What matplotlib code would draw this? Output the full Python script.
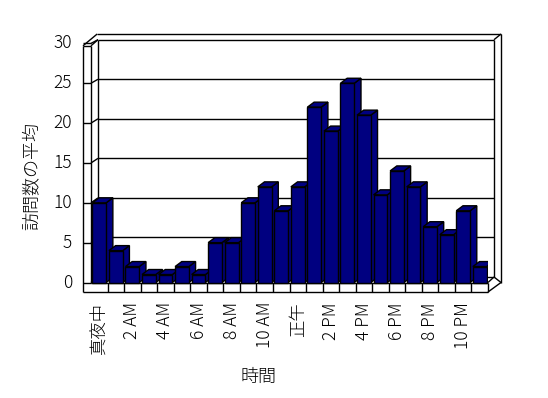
import matplotlib
matplotlib.use("Agg")
import matplotlib.pyplot as plt
from matplotlib.patches import Polygon
from matplotlib.lines import Line2D

plt.rcParams['font.family'] = ['Noto Sans CJK JP', 'DejaVu Sans']
plt.rcParams['font.weight'] = 'light'

# ---- data ----
hours = list(range(24))
visits = [10, 4, 2, 1, 1, 2, 1, 5, 5, 10, 12, 9, 12, 22, 19, 25, 21, 11, 14, 12, 7, 6, 9, 2]
tick_labels = ['真夜中', '2 AM', '4 AM', '6 AM', '8 AM', '10 AM',
               '正午', '2 PM', '4 PM', '6 PM', '8 PM', '10 PM']
y_ticks = [0, 5, 10, 15, 20, 25, 30]
x_title = '時間'
y_title = '訪問数の平均'

BAR = '#000080'
W, H = 548, 398
fig = plt.figure(figsize=(W / 100, H / 100), dpi=100)

# geometry (pixels)
cat_px = 16.54
front_left_px = 83
plane_left_px = 91
plane_right_px = 488
y0_px = 282.5
unit_px = 7.97
top_px, bot_px = 34, 292

xlo = -0.5 - (plane_left_px - front_left_px) / cat_px
xhi = 23.5
ylo = -(bot_px - y0_px) / unit_px
yhi = (y0_px - top_px) / unit_px

ax = fig.add_axes([front_left_px / W, (H - bot_px) / H,
                   (plane_right_px - front_left_px) / W, (bot_px - top_px) / H])
ax.set_xlim(xlo, xhi)
ax.set_ylim(ylo, yhi)
ax.axis('off')

px_x = 1.0 / cat_px      # data units per pixel (x)
px_y = 1.0 / unit_px     # data units per pixel (y)

lk = dict(color='black', lw=1.0, clip_on=False, solid_capstyle='butt')

def seg(xs, ys, z=1):
    ax.add_line(Line2D(xs, ys, zorder=z, **lk))

# back wall mapping
bdx_l = -0.5 + 7 * px_x       # back-wall left x
bdx_r = 23.5 + 6 * px_x       # back-wall right x
def back_y(v):
    return (y0_px - (277 - 7.91 * v)) / unit_px

def front_y(v):
    return v

# gridlines on back wall + left wall diagonals
for v in y_ticks:
    seg([bdx_l, bdx_r], [back_y(v), back_y(v)])
    seg([xlo, -0.5], [front_y(v), front_y(v)])
    seg([-0.5, bdx_l], [front_y(v), back_y(v)])

# walls and floor frame
outer_top = (y0_px - 34) / unit_px
outer_right = 23.5 + 13 * px_x
seg([bdx_r, bdx_r], [back_y(0), back_y(30)])
seg([bdx_r, outer_right], [back_y(30), outer_top])
seg([bdx_l, bdx_l], [back_y(0), back_y(30)])
seg([xlo, xlo], [ylo, front_y(29.7)])
seg([-0.5, -0.5], [0, front_y(29.7)])
seg([xlo, -0.5], [front_y(29.7), front_y(29.7)])
seg([xlo, bdx_l - 0.05], [front_y(29.7), outer_top])
seg([-0.5, bdx_l], [front_y(29.7), back_y(30)])
seg([bdx_l - 0.05, outer_right], [outer_top, outer_top])
seg([outer_right, outer_right], [outer_top, 0])
seg([outer_right, 23.5], [0, ylo])
seg([xlo, 23.5], [ylo, ylo])
seg([-0.5, 23.5], [0, 0])
seg([23.5, 23.5], [0, ylo])
seg([23.5, bdx_r], [0, back_y(0)])
seg([23.5 + 6 * px_x, outer_right], [back_y(0), 0])
for k in range(1, 24):
    seg([k - 0.5, k - 0.5], [ylo, 0])

# bars with 3D top and side
bw = 13.8 * px_x
ddx = 6.7 * px_x
ddy = 5.0 * px_y
for i, (x, v) in enumerate(zip(hours, visits)):
    z = 10 + i
    l, r = x - bw / 2, x + bw / 2
    side = Polygon([(r, 0), (r, v), (r + ddx, v + ddy), (r + ddx, ddy)],
                   closed=True, facecolor=BAR, edgecolor='black', lw=1.0, zorder=z)
    top = Polygon([(l, v), (r, v), (r + ddx, v + ddy), (l + ddx, v + ddy)],
                  closed=True, facecolor=BAR, edgecolor='black', lw=1.0, zorder=z)
    ax.add_patch(side)
    ax.add_patch(top)
    ax.bar([x], [v], width=bw, color=BAR, edgecolor='black', lw=1.0, zorder=z + 0.5)

# y tick labels
for v in y_ticks:
    ax.text(xlo - 11 * px_x, v, str(v), ha='right', va='center', fontsize=12.5,
            color='black', clip_on=False)

# x tick labels
for j, lab in enumerate(tick_labels):
    ax.text(hours[2 * j], ylo - 10 * px_y, lab, rotation=90, ha='center', va='top',
            fontsize=12.5, color='black', clip_on=False)

fig.text(258 / W, 1 - 377 / H, x_title, ha='center', va='center', fontsize=13)
fig.text(32 / W, 1 - 176 / H, y_title, ha='center', va='center', rotation=90, fontsize=13)

fig.savefig('out.png', dpi=100)
